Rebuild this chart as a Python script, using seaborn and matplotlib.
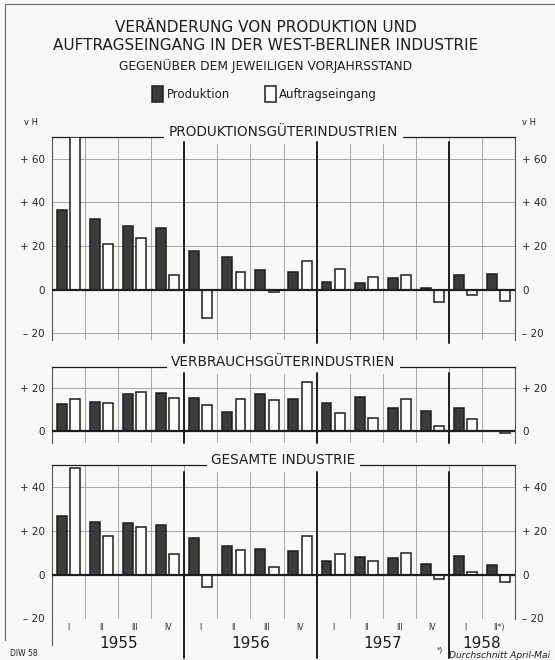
import pandas as pd
import numpy as np
import matplotlib.pyplot as plt
import seaborn as sns
from matplotlib.lines import Line2D

# --------------------------------------------------------------
# Data (vH gegenüber Vorjahresstand)
# --------------------------------------------------------------
years = ["1955", "1956", "1957", "1958"]
quarters = ["I", "II", "III", "IV", "I", "II", "III", "IV",
            "I", "II", "III", "IV", "I", "II*)"]
periods = [f"{y} {q}" for y in years[:3] for q in ["I", "II", "III", "IV"]] + ["1958 I", "1958 II"]
series = ["Produktion", "Auftragseingang"]

prod_produktionsgueter = [36.5, 32.6, 29.0, 28.3, 17.7, 15.2, 8.9, 8.2, 3.4, 3.0, 5.4, 1.0, 6.6, 7.4]
auft_produktionsgueter = [70.0, 21.0, 23.7, 7.0, -13.0, 8.2, -1.0, 13.0, 9.5, 5.7, 6.6, -5.8, -2.3, -5.0]

prod_verbrauchsgueter = [12.5, 13.4, 17.2, 17.7, 15.3, 9.0, 17.2, 15.0, 13.3, 16.1, 10.8, 9.2, 10.8, 0.0]
auft_verbrauchsgueter = [15.0, 13.0, 18.3, 15.3, 12.2, 15.0, 14.5, 22.8, 8.3, 6.1, 14.8, 2.3, 5.8, -1.0]

prod_gesamt = [26.9, 24.2, 23.4, 22.8, 16.9, 12.9, 11.7, 11.0, 6.4, 7.9, 7.6, 4.7, 8.5, 4.3]
auft_gesamt = [48.5, 17.5, 21.9, 9.3, -5.5, 11.3, 3.7, 17.7, 9.4, 6.2, 9.9, -2.1, 1.2, -3.2]

panel_titles = ["PRODUKTIONSGÜTERINDUSTRIEN", "VERBRAUCHSGÜTERINDUSTRIEN", "GESAMTE INDUSTRIE"]


def long_frame(prod, auft):
    return pd.DataFrame({
        "period": periods * 2,
        "series": [series[0]] * len(periods) + [series[1]] * len(periods),
        "value": prod + auft,
    })


# --------------------------------------------------------------
# Style
# --------------------------------------------------------------
BG = "#f8f8f6"
DARK = "#3c3c3c"
GRID = "#9a9a9a"
INK = "#1e1e1e"

sns.set_style("white")
plt.rcParams["font.family"] = ["DejaVu Sans"]
plt.rcParams["text.color"] = INK
plt.rcParams["axes.facecolor"] = BG
plt.rcParams["figure.facecolor"] = BG

fig = plt.figure(figsize=(5.55, 6.6), dpi=100)

# axes boxes in figure fractions (left, bottom, width, height)
L, W = 52 / 555, 463 / 555
boxes = [
    (L, 1 - 340 / 660, W, 203 / 660),
    (L, 1 - 443 / 660, W, 76 / 660),
    (L, 1 - 618.5 / 660, W, 153.5 / 660),
]
ylims = [(-23, 70), (-5.6, 30), (-20, 50)]
yticks = [[-20, 0, 20, 40, 60], [0, 20], [-20, 0, 20, 40]]
year_top = [0.975, 0.925, 0.956]
year_bottom = [-0.015, 0.0, -0.26]
frames = [
    long_frame(prod_produktionsgueter, auft_produktionsgueter),
    long_frame(prod_verbrauchsgueter, auft_verbrauchsgueter),
    long_frame(prod_gesamt, auft_gesamt),
]


def fmt(v):
    if v > 0:
        return f"+ {v}"
    if v < 0:
        return f"– {abs(v)}"
    return "0"


boundaries = np.arange(len(periods) + 1) - 0.5
year_lines = [3.5, 7.5, 11.5]
handles = None

for i, (df, box) in enumerate(zip(frames, boxes)):
    ax = fig.add_axes(box)
    sns.barplot(data=df, x="period", y="value", hue="series", order=periods,
                hue_order=series, palette=[DARK, "#fdfdfb"], width=0.8, gap=0.25,
                edgecolor=INK, linewidth=1.1, saturation=1, ax=ax, zorder=3)
    if i == 0:
        handles, labels = ax.get_legend_handles_labels()
    ax.get_legend().remove()

    ax.set_xlim(-0.5, len(periods) - 0.5)
    ax.set_ylim(*ylims[i])
    ax.set_xlabel("")
    ax.set_ylabel("")

    # y ticks on both sides
    ax.set_yticks(yticks[i])
    ax.set_yticklabels([fmt(v) for v in yticks[i]])
    ax.tick_params(axis="y", length=0, labelsize=7.5, pad=5,
                   left=True, right=True, labelleft=True, labelright=True)
    ax.grid(axis="y", color=GRID, lw=0.6, zorder=0)

    # quarter boundaries as thin vertical grid
    ax.set_xticks(boundaries, minor=True)
    ax.grid(axis="x", which="minor", color=GRID, lw=0.6, zorder=0)
    ax.grid(axis="x", which="major", visible=False)

    ax.axhline(0, color=INK, lw=1.6, zorder=4)

    for xb in year_lines:
        ax.axvline(xb, ymin=year_bottom[i], ymax=year_top[i], color=INK, lw=1.4,
                   clip_on=False, zorder=5)

    for side in ["left", "right"]:
        ax.spines[side].set_color("#555555")
        ax.spines[side].set_linewidth(0.8)
    ax.spines["top"].set_color(INK)
    ax.spines["top"].set_linewidth(0.9)
    ax.spines["bottom"].set_visible(False)

    ax.annotate(panel_titles[i], xy=(0.5, 1.0), xycoords="axes fraction",
                xytext=(0, 3.5), textcoords="offset points", ha="center", va="center",
                fontsize=9.8, color=INK,
                bbox=dict(boxstyle="square,pad=0.35", fc=BG, ec="none"))

    if i < 2:
        ax.set_xticks([])
        ax.tick_params(axis="x", which="minor", length=0)
    else:
        ax.set_xticks(range(len(periods)))
        ax.set_xticklabels(quarters, fontsize=5.5)
        ax.tick_params(axis="x", which="major", length=0, pad=3)
        ax.tick_params(axis="x", which="minor", length=9, width=0.6, color=GRID,
                       direction="out")
        ax.axvline(-0.5, ymin=-0.17, ymax=0, color="#555555", lw=0.8, clip_on=False)
        year_centers = [1.5, 5.5, 9.5, 12.5]
        for yr, xc in zip(years, year_centers):
            ax.text(xc, -0.16, yr, transform=ax.get_xaxis_transform(),
                    ha="center", va="center", fontsize=11)

    if i == 0:
        ax.text(-0.045, 1.06, "v H", transform=ax.transAxes, fontsize=6, ha="center")
        ax.text(1.03, 1.06, "v H", transform=ax.transAxes, fontsize=6, ha="center")

# --------------------------------------------------------------
# Titles, legend, footnotes, frame
# --------------------------------------------------------------
tx = 266 / 555
fig.text(tx, 1 - 27 / 660, "VERÄNDERUNG VON PRODUKTION UND", ha="center",
         va="center", fontsize=11)
fig.text(tx, 1 - 46 / 660, "AUFTRAGSEINGANG IN DER WEST-BERLINER INDUSTRIE",
         ha="center", va="center", fontsize=11)
fig.text(tx, 1 - 66 / 660, "GEGENÜBER DEM JEWEILIGEN VORJAHRSSTAND", ha="center",
         va="center", fontsize=8.8)

leg = fig.legend(handles, labels, loc="center", bbox_to_anchor=(0.477, 1 - 94 / 660),
                 ncol=2, frameon=False, fontsize=8.5, handlelength=0.9, handleheight=1.6,
                 handletextpad=0.3, columnspacing=3.0)

fig.text(10 / 555, 1 - 654 / 660, "DIW 58", fontsize=5.5, va="center")
fig.text(437 / 555, 1 - 650 / 660, "*)", fontsize=5, va="center")
fig.text(550 / 555, 1 - 655 / 660, "Durchschnitt April-Mai", fontsize=6.6,
         style="italic", ha="right", va="center")

fig.add_artist(Line2D([5 / 555, 5 / 555], [1 - 4 / 660, 1 - 640 / 660], color="#666666", lw=0.8))
fig.add_artist(Line2D([5 / 555, 1.0], [1 - 4 / 660, 1 - 4 / 660], color="#666666", lw=0.8))

fig.savefig("out.png", dpi=100, facecolor=BG)
